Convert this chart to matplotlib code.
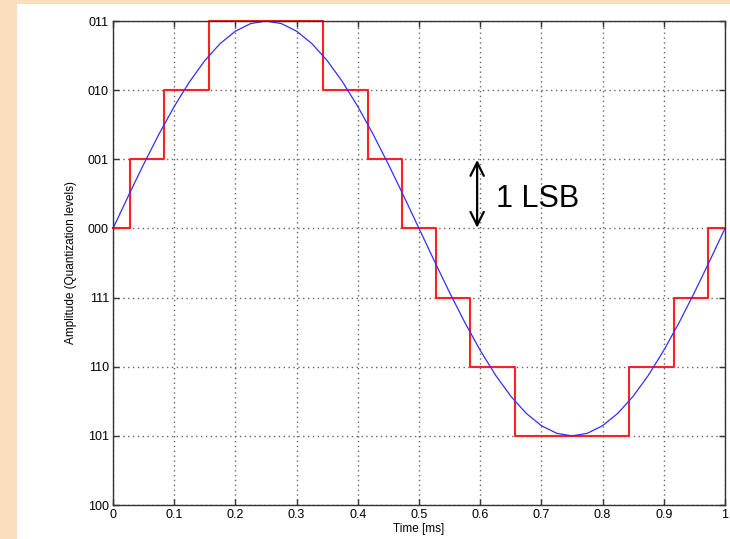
import matplotlib.pyplot as plt
from matplotlib.patches import Rectangle

# analog signal samples (ms, level units)
time_ms = [0.0, 0.025, 0.05, 0.075, 0.1, 0.125, 0.15, 0.175, 0.2, 0.225,
           0.25, 0.275, 0.3, 0.325, 0.35, 0.375, 0.4, 0.425, 0.45, 0.475,
           0.5, 0.525, 0.55, 0.575, 0.6, 0.625, 0.65, 0.675, 0.7, 0.725,
           0.75, 0.775, 0.8, 0.825, 0.85, 0.875, 0.9, 0.925, 0.95, 0.975, 1.0]
signal = [0.0, 0.469, 0.927, 1.362, 1.763, 2.121, 2.427, 2.673, 2.853, 2.963,
          3.0, 2.963, 2.853, 2.673, 2.427, 2.121, 1.763, 1.362, 0.927, 0.469,
          0.0, -0.469, -0.927, -1.362, -1.763, -2.121, -2.427, -2.673, -2.853, -2.963,
          -3.0, -2.963, -2.853, -2.673, -2.427, -2.121, -1.763, -1.362, -0.927, -0.469, 0.0]

# quantized staircase
step_time = [0.0, 0.027, 0.083, 0.157, 0.343, 0.417, 0.473, 0.527,
             0.583, 0.657, 0.843, 0.917, 0.973, 1.0]
step_level = [0, 1, 2, 3, 2, 1, 0, -1, -2, -3, -2, -1, 0, 0]

level_values = [-4, -3, -2, -1, 0, 1, 2, 3]
level_labels = ['100', '101', '110', '111', '000', '001', '010', '011']
x_ticks = [0, 0.1, 0.2, 0.3, 0.4, 0.5, 0.6, 0.7, 0.8, 0.9, 1]
x_labels = ['0', '0.1', '0.2', '0.3', '0.4', '0.5', '0.6', '0.7', '0.8', '0.9', '1']

plt.rcParams['font.family'] = ['Liberation Sans', 'DejaVu Sans']

fig = plt.figure(figsize=(7.3, 5.39), dpi=100)
fig.patch.set_facecolor('#f9dfbd')
fig.patches.append(Rectangle((17 / 730, 0), 1, (539 - 4) / 539, transform=fig.transFigure,
                             facecolor='white', edgecolor='none', zorder=-5))

ax = fig.add_axes([113 / 730, 34 / 539, 612 / 730, 484 / 539])
ax.set_zorder(2)
ax.set_facecolor('white')

ax.plot(time_ms, signal, color='#3030ff', lw=0.9, zorder=4)
ax.step(step_time, step_level, where='post', color='#ff2020', lw=1.5, zorder=3, clip_on=False)

ax.set_xlim(0, 1)
ax.set_ylim(-4, 3)
ax.set_xticks(x_ticks)
ax.set_xticklabels(x_labels)
ax.set_yticks(level_values)
ax.set_yticklabels(level_labels)
ax.tick_params(direction='in', length=4, width=1, labelsize=9, pad=3,
               top=True, right=True, color='#333333')
ax.grid(True, linestyle=(0, (1, 2.5)), color='#666666', lw=1.0)
for s in ax.spines.values():
    s.set_color('#333333')
    s.set_linewidth(1.0)
    s.set_zorder(5)

ax.set_xlabel('Time [ms]', fontsize=8.5, labelpad=1)
ax.set_ylabel('Amplitude (Quantization levels)', fontsize=8.5, labelpad=8)

ax.annotate('', xy=(0.595, 1.03), xytext=(0.595, -0.03),
            arrowprops=dict(arrowstyle='<->', lw=1.6, color='black', mutation_scale=24))
ax.text(0.625, 0.43, '1 LSB', fontsize=22, va='center', ha='left')

fig.savefig('out.png', dpi=100, facecolor=fig.get_facecolor())
